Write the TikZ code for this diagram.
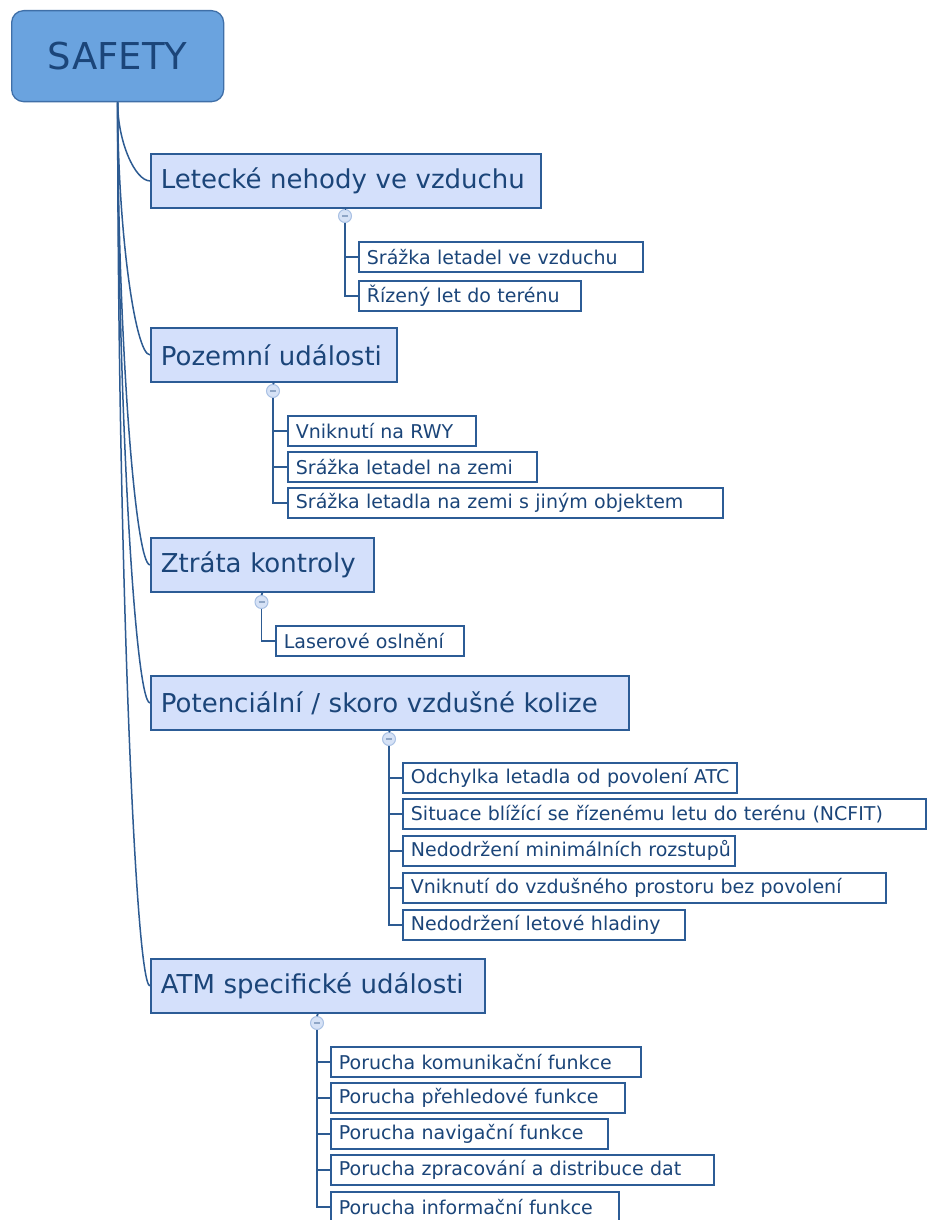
\documentclass[tikz,border=0pt]{standalone}
\usepackage{fontspec}
\setmainfont{DejaVu Sans}
\usetikzlibrary{calc}

\definecolor{rootfill}{HTML}{6AA3DF}
\definecolor{rootdraw}{HTML}{3F6FA8}
\definecolor{mainfill}{HTML}{D4E0FB}
\definecolor{boxdraw}{HTML}{2C5C96}
\definecolor{ink}{HTML}{1B4579}
\definecolor{wire}{HTML}{2D5B92}
\definecolor{knobfill}{HTML}{D6E2F6}
\definecolor{knobdraw}{HTML}{A9C1E4}
\definecolor{knobbar}{HTML}{8FA6C6}

\tikzset{
  rootbox/.style={draw=rootdraw, fill=rootfill, line width=1.3pt, rounded corners=12pt,
    anchor=north west, font=\fontsize{37}{40}\selectfont, text=ink, inner sep=0pt},
  % topic box of a given outer width, text set from the left
  mainbox/.style={draw=boxdraw, fill=mainfill, line width=1.8pt, anchor=north west,
    font=\fontsize{26}{30}\selectfont, text=ink, inner xsep=10pt, inner ysep=0pt,
    minimum height=54pt, text width=#1-20pt, align=left},
  % subtopic box of a given outer width
  leaf/.style={draw=boxdraw, fill=white, line width=1.8pt, anchor=north west,
    font=\fontsize{19}{22}\selectfont, text=ink, inner xsep=8pt, inner ysep=0pt,
    minimum height=30pt, text width=#1-16pt, align=left},
  knob/.style={circle, draw=knobdraw, fill=knobfill, minimum size=13pt, inner sep=0pt,
    line width=1pt, path picture={\draw[knobbar, line width=1.2pt]
      ($(path picture bounding box.center)+(-3pt,0)$) -- ++(6pt,0);}},
  wire/.style={draw=wire, line width=1.8pt},
  branch/.style={draw=wire, line width=1.5pt},
}

% curved branch from the root to a topic box
\newcommand{\rootlink}[1]{%
  \draw[branch] (root.south) .. controls ($(root.south)!0.5!(root.south |- #1.west)$)
    and ($(#1.west)+(-15,0)$) .. (#1.west);}

\begin{document}
\begin{tikzpicture}[x=1pt, y=-1pt]
\useasboundingbox (0,0) rectangle (928,1220);

% root
\node[rootbox, minimum width=212pt, minimum height=91pt] (root) at (11,10) {SAFETY};

% topics
\node[mainbox=390pt] (M1) at (150,153) {\mbox{Letecké nehody ve vzduchu}};
\node[mainbox=246pt] (M2) at (150,327) {\mbox{Pozemní události}};
\node[mainbox=223pt] (M3) at (150,537) {\mbox{Ztráta kontroly}};
\node[mainbox=478pt] (M4) at (150,675) {\mbox{Potenciální / skoro vzdušné kolize}};
\node[mainbox=334pt] (M5) at (150,958) {\mbox{ATM specifické události}};

\rootlink{M1}
\rootlink{M2}
\rootlink{M3}
\rootlink{M4}
\rootlink{M5}

% collapse knobs
\node[knob] (K1) at (345,216) {};
\node[knob] (K2) at (273,391) {};
\node[knob] (K3) at (261.5,602) {};
\node[knob] (K4) at (389,739) {};
\node[knob] (K5) at (317,1023) {};

\foreach \i in {1,...,5} {\draw[wire] (M\i.south) -- (K\i.north);}

% subtopics
\node[leaf=284pt] (C11) at (358,241) {\mbox{Srážka letadel ve vzduchu}};
\node[leaf=222pt] (C12) at (358,280) {\mbox{Řízený let do terénu}};

\node[leaf=188pt] (C21) at (287,415) {\mbox{Vniknutí na RWY}};
\node[leaf=249pt] (C22) at (287,451) {\mbox{Srážka letadel na zemi}};
\node[leaf=435pt] (C23) at (287,487) {\mbox{Srážka letadla na zemi s jiným objektem}};

\node[leaf=188pt] (C31) at (275,625) {\mbox{Laserové oslnění}};

\node[leaf=334pt] (C41) at (402,762) {\mbox{Odchylka letadla od povolení ATC}};
\node[leaf=523pt] (C42) at (402,798) {\mbox{Situace blížící se řízenému letu do terénu (NCFIT)}};
\node[leaf=332pt] (C43) at (402,835) {\mbox{Nedodržení minimálních rozstupů}};
\node[leaf=483pt] (C44) at (402,872) {\mbox{Vniknutí do vzdušného prostoru bez povolení}};
\node[leaf=282pt] (C45) at (402,909) {\mbox{Nedodržení letové hladiny}};

\node[leaf=310pt] (C51) at (330,1046) {\mbox{Porucha komunikační funkce}};
\node[leaf=294pt] (C52) at (330,1082) {\mbox{Porucha přehledové funkce}};
\node[leaf=277pt] (C53) at (330,1118) {\mbox{Porucha navigační funkce}};
\node[leaf=383pt] (C54) at (330,1154) {\mbox{Porucha zpracování a distribuce dat}};
\node[leaf=288pt] (C55) at (330,1191) {\mbox{Porucha informační funkce}};

% elbow connectors from knobs to subtopics
\foreach \c in {C11,C12} {\draw[wire] (K1.south) |- (\c.west);}
\foreach \c in {C21,C22,C23} {\draw[wire] (K2.south) |- (\c.west);}
\foreach \c in {C31} {\draw[wire] (K3.south) |- (\c.west);}
\foreach \c in {C41,C42,C43,C44,C45} {\draw[wire] (K4.south) |- (\c.west);}
\foreach \c in {C51,C52,C53,C54,C55} {\draw[wire] (K5.south) |- (\c.west);}
\end{tikzpicture}
\end{document}
